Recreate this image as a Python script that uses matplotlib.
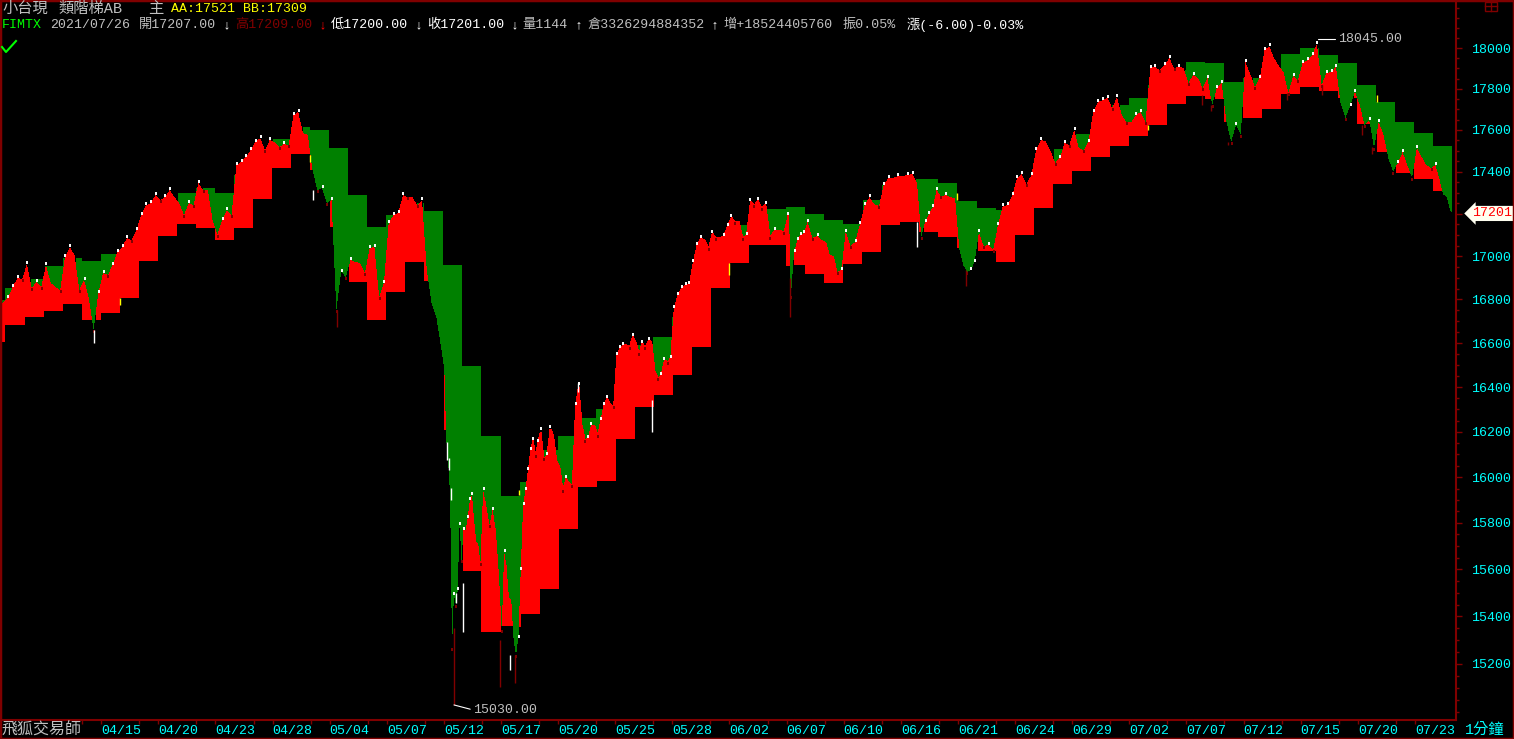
import numpy as np
import matplotlib
matplotlib.use('Agg')
import matplotlib.pyplot as plt
from matplotlib.patches import Rectangle
from matplotlib.lines import Line2D
from matplotlib.transforms import blended_transform_factory

# trading days on the x axis, index 0 of the step lists is the cut off day -1
first_day = -1
upper_step = [16797, 16853, 16894, 16955, 16992, 16978, 17010, 17029, 17100, 17194, 17297, 17321, 17297,
              17383, 17455, 17556, 17614, 17600, 17513, 17288, 17137, 17194, 17250, 17212, 16959, 16496,
              16181, 15918, 15979, 16119, 16181, 16262, 16302, 16455, 16591, 16628, 16719, 16936, 17043,
              17147, 17217, 17222, 17231, 17198, 17170, 17151, 17264, 17336, 17364, 17364, 17345, 17259,
              17226, 17217, 17302, 17431, 17508, 17580, 17648, 17721, 17755, 17819, 17892, 17931, 17926,
              17833, 17853, 17902, 17971, 18000, 17966, 17926, 17819, 17735, 17638, 17585, 17521]
lower_step = [16605, 16683, 16719, 16747, 16779, 16705, 16737, 16806, 16978, 17095, 17151, 17132, 17076,
              17132, 17269, 17417, 17484, 17407, 17137, 16881, 16705, 16834, 16973, 16885, 16208, 15593,
              15334, 15359, 15414, 15520, 15774, 15961, 15983, 16172, 16315, 16369, 16455, 16582, 16853,
              16969, 17053, 17057, 16959, 16918, 16876, 16964, 17020, 17147, 17161, 17114, 17090, 17038,
              17024, 16973, 17100, 17226, 17341, 17403, 17470, 17523, 17571, 17624, 17726, 17765, 17750,
              17638, 17658, 17701, 17775, 17809, 17789, 17755, 17629, 17493, 17393, 17364, 17309]

# intraday closes, one list per day, spread evenly over that day
closes = [
    [16760, 16774],
    [16806, 16857, 16899, 16894], [16964, 16853, 16881, 16857], [16959, 16876, 16857, 16843],
    [16997, 17043, 17006, 16843], [16890, 16806, 16660, 16829], [16922, 16913, 16959, 17020],
    [17043, 17086, 17076, 17123], [17194, 17240, 17250, 17288], [17264, 17278, 17312, 17278],
    [17250, 17194, 17250, 17240], [17345, 17312, 17312, 17170], [17100, 17170, 17217, 17194],
    [17431, 17446, 17470, 17503], [17542, 17561, 17503, 17551], [17542, 17518, 17532, 17527],
    [17672, 17687, 17585, 17576], [17407, 17312, 17321, 17250], [17264, 16751, 16927, 16904],
    [16983, 16973, 16969, 16922], [17038, 17043, 16811, 16876], [17156, 17194, 17203, 17288],
    [17278, 17278, 17240, 17264], [16936, 16783, 16719, 16582],
    [16478, 16164, 16066, 15922, 15266, 15490, 15448, 15512, 15792, 15640],
    [15770, 15770, 15822, 15900, 15922, 15813, 15722, 15705, 15627],
    [15944, 15878, 15792, 15857, 15770, 15576],
    [15342, 15674, 15619, 15482, 15469, 15300, 15237, 15309],
    [15597, 15878, 15944, 16031, 16119, 16164, 16097, 16155],
    [16208, 16084, 16097, 16217, 16186, 16075], [16045, 15944, 15996, 15974, 15966, 16320],
    [16410, 16230, 16164, 16172, 16230, 16230], [16186, 16253, 16320, 16351, 16324, 16315],
    [16545, 16577, 16591, 16591, 16582, 16632], [16605, 16554, 16600, 16582, 16614, 16605],
    [16469, 16441, 16455, 16523, 16514, 16532], [16760, 16820, 16853, 16867, 16871],
    [16973, 17053, 17086, 17076, 17038], [17109, 17086, 17086, 17095, 17142],
    [17184, 17161, 17161, 17086, 17100], [17259, 17240, 17264, 17226, 17245],
    [17090, 17123, 17123, 17114], [17194, 16816, 17020, 17076, 17100, 17109],
    [17161, 17086, 17095, 17076], [17067, 17006, 17001, 16927, 16936], [17114, 17048, 17067, 17151],
    [17240, 17278, 17245, 17236], [17336, 17369, 17369, 17379], [17379, 17383, 17388, 17345],
    [17090, 17161, 17198, 17231, 17312], [17283, 17288, 17278, 17273],
    [17029, 16959, 16927, 16936, 16973], [17114, 17048, 17053, 17029], [17147, 17236, 17240, 17288],
    [17369, 17388, 17341, 17383], [17503, 17551, 17546, 17503], [17441, 17465, 17537, 17527],
    [17600, 17513, 17503, 17542], [17687, 17735, 17745, 17755], [17706, 17760, 17672, 17638],
    [17638, 17672, 17687, 17638], [17902, 17907, 17892, 17917], [17951, 17902, 17907, 17902],
    [17828, 17868, 17853, 17804], [17853, 17721, 17804, 17828], [17638, 17542, 17624, 17576],
    [17931, 17873, 17809, 17853], [17990, 18010, 17951, 17912], [17882, 17779, 17863, 17843],
    [17926, 17941, 17966, 18020], [17819, 17877, 17882, 17907], [17726, 17658, 17716, 17784],
    [17721, 17624, 17648, 17513], [17638, 17576, 17465, 17398], [17441, 17493, 17431, 17369],
    [17513, 17470, 17431, 17417], [17431, 17369, 17292, 17278, 17208],
]

# long wicks: day position, top price, bottom price
dark_day = [23.53, 17.38, 25.95, 26.73, 41.18, 50.4, 62.8, 63.3, 64.2, 67.3, 69.1, 71.2, 71.75]
dark_top = [15350, 16751, 15300, 15237, 16900, 16936, 17770, 17721, 17542, 17779, 17819, 17624, 17518]
dark_bot = [15030, 16673, 15104, 15121, 16719, 16860, 17721, 17692, 17527, 17745, 17770, 17576, 17484]
white_day = [47.85, 4.6, 24.0, 23.63, 26.47, 30.04, 23.16, 23.27, 23.37, 33.93, 16.1]
white_top = [17161, 16660, 15542, 15499, 15237, 16419, 16155, 16084, 15953, 16342, 17312]
white_bot = [17043, 16600, 15334, 15456, 15175, 16378, 16075, 16031, 15900, 16200, 17264]
yellow_day = [5.99, 15.97, 37.97, 49.95, 59.98, 72.0, 26.94]
yellow_top = [16806, 17479, 16969, 17297, 17624, 17770, 15944]
yellow_bot = [16774, 17446, 16913, 17264, 17600, 17735, 15922]

price_ticks = [15200, 15400, 15600, 15800, 16000, 16200, 16400, 16600, 16800,
               17000, 17200, 17400, 17600, 17800, 18000]
date_labels = ['04/15', '04/20', '04/23', '04/28', '05/04', '05/07', '05/12', '05/17', '05/20',
               '05/25', '05/28', '06/02', '06/07', '06/10', '06/16', '06/21', '06/24', '06/29',
               '07/02', '07/07', '07/12', '07/15', '07/20', '07/23']
high_price = 18045
low_price = 15030
last_price = 17201

W, H = 1514, 739
GREEN = '#008000'
RED = '#ff0000'
FRAME = '#800000'
CYAN = '#00ffff'
GREY = '#c0c0c0'
plt.rcParams['font.family'] = ['Liberation Mono', 'Noto Sans CJK TC', 'DejaVu Sans']
plt.rcParams['font.size'] = 9.5

fig = plt.figure(figsize=(W / 100, H / 100), dpi=100, facecolor='black')
ax = fig.add_axes([2 / W, 1 - 720 / H, 1454 / W, 718 / H], facecolor='black')
ax.set_yscale('log')
ax.set_xlim(-0.21, 76.16)
ax.set_ylim(14968, 18229)

# flatten closes to day positions
sample_x = []
sample_p = []
for i, day_closes in enumerate(closes):
    n = len(day_closes)
    for j, p in enumerate(day_closes):
        sample_x.append(first_day + i + (j + 0.5) / n)
        sample_p.append(p)
sample_x = np.array(sample_x)
sample_p = np.array(sample_p, dtype=float)

# one column per pixel for the fills
grid = np.arange(-0.21, 75.95, 1 / 19.04)
price_at = np.interp(grid, sample_x, sample_p)
idx = np.clip(np.floor(grid).astype(int) - first_day, 0, len(upper_step) - 1)
upper_at = np.array(upper_step, dtype=float)[idx]
lower_at = np.array(lower_step, dtype=float)[idx]

ax.fill_between(grid, upper_at, price_at, where=price_at < upper_at, color=GREEN, lw=0,
                step='mid', antialiased=False)
ax.fill_between(grid, price_at, lower_at, where=price_at > lower_at, color=RED, lw=0,
                step='mid', antialiased=False)

# small wick specks where the closes go up, and at their lows
is_up = sample_p[1:] > sample_p[:-1]
is_dip = (sample_p[1:-1] < sample_p[:-2]) & (sample_p[1:-1] <= sample_p[2:])
peak_x, peak_p = sample_x[1:][is_up], sample_p[1:][is_up]
dip_x, dip_p = sample_x[1:-1][is_dip], sample_p[1:-1][is_dip]
ax.vlines(peak_x, peak_p, peak_p * 1.0008, color='white', lw=1.4)
ax.vlines(dip_x, dip_p, dip_p * 0.9992, color=FRAME, lw=1.4)

ax.vlines(dark_day, dark_bot, dark_top, color=FRAME, lw=1)
ax.vlines(white_day, white_bot, white_top, color='white', lw=1)
ax.vlines(yellow_day, yellow_bot, yellow_top, color='yellow', lw=1)

# axes, ticks
for side in ['left', 'top']:
    ax.spines[side].set_visible(False)
for side in ['right', 'bottom']:
    ax.spines[side].set_color(FRAME)
    ax.spines[side].set_linewidth(1.5)

ax.yaxis.tick_right()
ax.set_yticks(price_ticks, [str(t) for t in price_ticks])
ax.set_yticks(np.arange(15000, 18201, 50), minor=True)
ax.set_yticklabels([], minor=True)
ax.tick_params(axis='y', which='major', colors=CYAN, length=4.5, width=1, pad=6, labelsize=9.5)
ax.tick_params(axis='y', which='minor', length=2, width=1, color=FRAME)
ax.tick_params(axis='y', which='major', color=FRAME)

date_days = [5 + 3 * i for i in range(len(date_labels))]
ax.set_xticks(date_days, date_labels, ha='left')
ax.set_xticks([d for d in range(4, 76) if (d - 5) % 3 != 1], minor=True)
ax.set_xticklabels([], minor=True)
ax.tick_params(axis='x', which='both', color=FRAME, length=3, width=1)
ax.tick_params(axis='x', which='major', labelcolor=CYAN, pad=0.5, labelsize=9.5)

# high and low notes
hi_day = sample_x[np.argmax(sample_p)] + 0.05
lo_day = dark_day[0]
ax.annotate('%.2f' % high_price, xy=(hi_day, high_price), xytext=(20, -0.5), textcoords='offset pixels',
            color=GREY, va='center', fontsize=9.5,
            arrowprops=dict(arrowstyle='-', color='white', lw=0.8, shrinkA=0, shrinkB=0, relpos=(0, 0.5),
                            connectionstyle='angle,angleA=0,angleB=90,rad=0'))
ax.annotate('%.2f' % low_price, xy=(lo_day, low_price), xytext=(19, -5), textcoords='offset pixels',
            color=GREY, va='center', fontsize=9.5,
            arrowprops=dict(arrowstyle='-', color='white', lw=0.8, shrinkA=0, shrinkB=0, relpos=(0, 0.5)))

# last price tag
tag_tf = blended_transform_factory(ax.transAxes, ax.transData)
ax.text(1.0112, last_price, str(last_price), transform=tag_tf, color=RED, va='center', ha='left',
        fontsize=9.5, clip_on=False, zorder=5,
        bbox=dict(boxstyle='larrow,pad=0.12', fc='#fffff0', ec='none'))


def put(x, y, s, color=GREY, **kw):
    fig.text(x / W, 1 - y / H, s, color=color, va='center', ha='left', **kw)


# header lines
put(2, 9, '小台現', fontsize=11)
put(58, 9, '類階梯AB', fontsize=11)
put(148, 9, '主', fontsize=11)
put(171, 9, 'AA:17521 BB:17309', color='yellow')
put(2, 25, 'FIMTX', color='#00ff00')
put(50, 25, '2021/07/26')
put(139, 25, '開17207.00')
put(223, 25, '↓', color='white')
put(235, 25, '高17209.00', color=FRAME)
put(319, 25, '↓', color=RED)
put(331, 25, '低17200.00', color='white')
put(415, 25, '↓', color='white')
put(427, 25, '收17201.00', color='white')
put(511, 25, '↓', color='white')
put(522, 25, '量1144')
put(575, 25, '↑', color='white')
put(587, 25, '倉3326294884352')
put(711, 25, '↑', color='white')
put(723, 25, '增+18524405760')
put(843, 25, '振0.05%')
put(907, 25, '漲(-6.00)-0.03%', color='white')

# footer
put(1, 730, '飛狐交易師', fontsize=11.5)
put(1465, 730, '1分鐘', color=CYAN, fontsize=11)

# check mark, outer frame and the little window icon
fig.add_artist(Line2D([2 / W, 6 / W, 16 / W], [1 - 47 / H, 1 - 52 / H, 1 - 41 / H], color='#00ff00', lw=1.5))
fig.add_artist(Rectangle((0, 0), 1, 1, transform=fig.transFigure, fill=False, ec=FRAME, lw=2.5))
fig.add_artist(Rectangle((1485 / W, 1 - 11 / H), 12 / W, 9 / H, transform=fig.transFigure,
                         fill=False, ec=FRAME, lw=1))
fig.add_artist(Line2D([1485 / W, 1497 / W], [1 - 6 / H, 1 - 6 / H], color=FRAME, lw=1))
fig.add_artist(Line2D([1491 / W, 1491 / W], [1 - 2 / H, 1 - 11 / H], color=FRAME, lw=1))

fig.savefig('out.png', dpi=100, facecolor='black')
